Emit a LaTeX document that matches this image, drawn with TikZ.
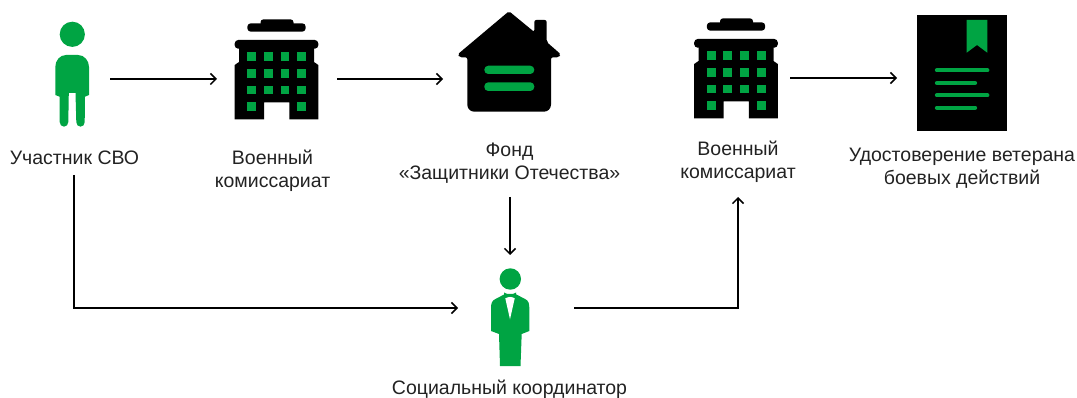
\documentclass[tikz,border=0pt]{standalone}
\usepackage{fontspec}
\setmainfont{Liberation Sans}
\usetikzlibrary{arrows.meta}
\definecolor{ink}{HTML}{000000}
\definecolor{grn}{HTML}{00A443}
\definecolor{txt}{HTML}{222222}
\tikzset{
  x=1pt,y=-1pt,
  hit/.style={inner sep=0,outer sep=0,draw=none,rectangle},
  lab/.style={inner sep=0,outer sep=0,align=center,text=txt,font=\fontsize{19.5}{23.3}\selectfont},
  conn/.style={draw=black,line width=1.5pt,-{Straight Barb[length=5.5pt,width=11pt,line width=1.5pt]},rounded corners=0pt},
  pics/office/.style={code={
    \fill[ink,rounded corners=3.5pt] (-36.7,-55.7) rectangle (21.7,-47.3);
    \fill[ink,rounded corners=3pt] (-23.5,-59.7) rectangle (9.5,-50);
    \fill[ink,rounded corners=3.5pt] (-49.3,-39) rectangle (34.3,-30.3);
    \fill[ink] (-45,-35) -- (30,-35) -- (30,-17) -- (34.3,-14) -- (34.3,40.3) -- (5.3,40.3) -- (5.3,23.3) -- (-20,23.3) -- (-20,40.3) -- (-49.3,40.3) -- (-49.3,-14) -- (-45,-17) -- cycle;
    \foreach \wy in {-22.3,-5.7,11}{\foreach \wx in {-32.3,-15.7,1,17.7}{
      \fill[grn] (\wx-4.4,\wy-4.4) rectangle (\wx+4.4,\wy+4.4);}}
    \foreach \wx in {-32.3,17.7}{\fill[grn] (\wx-4.4,27.7-4.4) rectangle (\wx+4.4,27.7+4.4);}
  }}
}
\begin{document}
\begin{tikzpicture}
\useasboundingbox (0,0) rectangle (1077,398);
% participant
\fill[grn] (72.3,34.3) circle (12.6);
\fill[grn] (66,55) -- (78,55) to[out=0,in=90] (89,67) -- (89,95) -- (85,96.7) -- (84.7,122) to[out=-90,in=0] (80.5,126.7) to[out=180,in=-90] (76.3,122) -- (75.5,93) -- (68.8,93) -- (68.3,122) to[out=-90,in=0] (64,126.7) to[out=180,in=-90] (59.7,122) -- (59.5,96.7) -- (55.3,95) -- (55.3,67) to[out=90,in=180] cycle;
\node[hit,minimum width=76,minimum height=90] (uch) at (72,79) {};
\node[lab] (uchl) at (74.5,158) {Участник СВО};
\node[hit,minimum width=130,minimum height=36] (uchb) at (74,157) {};
% office 1
\pic at (284,79) {office};
\node[hit,minimum width=120,minimum height=100] (v1) at (277,79) {};
\node[lab] (v1l) at (272.5,170.5) {Военный\\комиссариат};
% house
\fill[ink,rounded corners=2pt] (509,11.2) -- (534.3,32) -- (534.3,20) -- (546.7,20) -- (546.7,42) -- (561,54.5) -- (559,57.3) -- (551,57.3) [rounded corners=7pt] -- (551,111.7) -- (467.3,111.7) [rounded corners=2pt] -- (467.3,57.3) -- (459.5,57.3) -- (457.5,54.5) -- cycle;
\fill[grn,rounded corners=4pt] (484.3,65.7) rectangle (534.3,74);
\fill[grn,rounded corners=4pt] (484.3,82.3) rectangle (534.3,91);
\node[hit,minimum width=134,minimum height=100] (fd) at (510,79) {};
\node[lab] (fdl) at (509.5,163) {Фонд\\«Защитники Отечества»};
\node[hit,minimum width=120,minimum height=70] (fdb) at (510,162) {};
% office 2
\pic at (743.5,78) {office};
\node[hit,minimum width=104,minimum height=100] (v2) at (738,78) {};
\node[lab] (v2l) at (738,162) {Военный\\комиссариат};
\node[hit,minimum width=120,minimum height=72] (v2b) at (738,161) {};
% certificate
\fill[ink] (916.7,15) rectangle (1007.3,130.7);
\fill[grn] (966.7,20) -- (987.3,20) -- (987.3,52.7) -- (977,45) -- (966.7,52.7) -- cycle;
\foreach \ly/\lx in {70.3/989.3,83/977,95.3/989.3,107.7/977}{
  \draw[grn,line width=4.3pt,line cap=round] (937,\ly) -- (\lx-2,\ly);}
\node[hit,minimum width=60,minimum height=100] (doc) at (927,78) {};
\node[lab] (docl) at (962,168) {Удостоверение ветерана\\боевых действий};
% coordinator
\fill[grn] (510.3,279) circle (10.7);
\fill[grn] (505,294) -- (515.5,294) -- (525,299) to[out=-20,in=90] (529.3,308) -- (529.3,331) -- (521.7,334) -- (520.5,366) -- (500,366) -- (499,334) -- (491,331) -- (491,308) to[out=90,in=200] (495.5,299) -- cycle;
\fill[white] (505,297) -- (515,297) -- (510,319.3) -- cycle;
\fill[grn] (504,292.5) -- (510,295.5) -- (516,292.5) -- (516,298.5) -- (510,296.5) -- (504,298.5) -- cycle;
\node[hit,minimum width=116,minimum height=106] (soc) at (516,308) {};
\node[lab] (socl) at (509.5,389) {Социальный координатор};
% connectors
\draw[conn] (uch.east) -- (v1.west);
\draw[conn] (v1.east) -- (fd.west);
\draw[conn] (v2.east |- doc.west) -- (doc.west);
\draw[conn] (fdb.south) -- (fdb.south |- soc.north);
\draw[conn] (uchb.south) |- (soc.west);
\draw[conn] (soc.east) -| (v2b.south);
\end{tikzpicture}
\end{document}
